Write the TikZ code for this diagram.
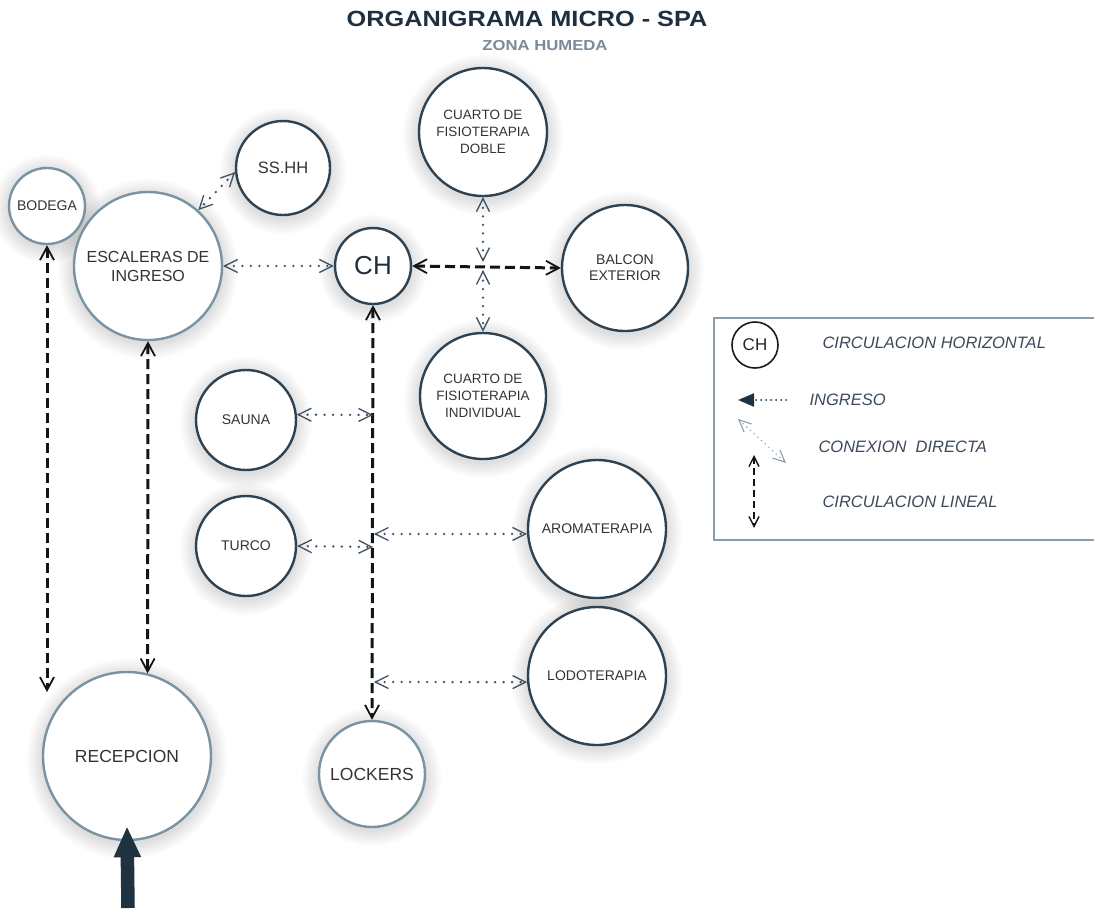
\documentclass[tikz,border=0pt]{standalone}
\usepackage{fontspec}
\setmainfont{Liberation Sans}
\newfontfamily\titlefont[FakeStretch=1.15]{Liberation Sans}
\usetikzlibrary{arrows.meta,backgrounds}
\definecolor{dk}{HTML}{2E4252}
\definecolor{lt}{HTML}{7A93A3}
\definecolor{txt}{HTML}{333333}
\definecolor{ttl}{HTML}{1E3040}
\definecolor{sub}{HTML}{7A8A99}
\definecolor{dotc}{HTML}{3E5264}
\definecolor{lgt}{HTML}{8C9DAA}
\definecolor{lgtxt}{HTML}{3D4A5C}
\definecolor{entryc}{HTML}{1E3240}
\tikzset{
  room/.style={circle, fill=white, line width=2.4pt, inner sep=0pt, align=center, text=txt},
  dkroom/.style={room, draw=dk},
  ltroom/.style={room, draw=lt},
  dotl/.style={dotc, line width=2.6pt, line cap=round, dash pattern=on 0pt off 8.5pt,
    {Straight Barb[length=13pt,width=13pt,line width=1.3pt]}-{Straight Barb[length=13pt,width=13pt,line width=1.3pt]}},
  dsh/.style={black!92, line width=3pt, dash pattern=on 10pt off 5pt,
    {Straight Barb[length=13pt,width=14pt,line width=1.8pt]}-{Straight Barb[length=13pt,width=14pt,line width=1.8pt]}},
  lgtext/.style={anchor=west, text=lgtxt, font=\fontsize{16.5}{20}\selectfont\itshape},
  f14/.style={font=\fontsize{14}{16}\selectfont},
}
\begin{document}
\begin{tikzpicture}[x=1pt,y=-1pt]
\useasboundingbox (0,0) rectangle (1094,908);

% titles
\node[text=ttl, font=\titlefont\bfseries\fontsize{22}{25}\selectfont] (title) at (527,19) {ORGANIGRAMA MICRO - SPA};
\node[text=sub, font=\titlefont\bfseries\fontsize{14.5}{16}\selectfont] (subt) at (545,46) {ZONA HUMEDA};

% rooms
\node[ltroom, minimum size=76pt, f14] (bod) at (47,206) {BODEGA};
\node[ltroom, minimum size=148pt, font=\fontsize{16}{19}\selectfont] (esc) at (148,266) {ESCALERAS DE\\INGRESO};
\node[dkroom, minimum size=94pt, font=\fontsize{16.5}{20}\selectfont] (ss) at (283,168) {SS.HH};
\node[dkroom, minimum size=76pt, text=ttl, font=\fontsize{26}{30}\selectfont] (ch) at (373,266) {CH};
\node[dkroom, minimum size=128pt, font=\fontsize{13.5}{17}\selectfont] (dob) at (483,132) {CUARTO DE\\FISIOTERAPIA\\DOBLE};
\node[dkroom, minimum size=126pt, f14] (bal) at (625,268) {BALCON\\EXTERIOR};
\node[dkroom, minimum size=126pt, font=\fontsize{13.5}{17}\selectfont] (ind) at (483,396) {CUARTO DE\\FISIOTERAPIA\\INDIVIDUAL};
\node[dkroom, minimum size=100pt, f14] (sau) at (246,420) {SAUNA};
\node[dkroom, minimum size=100pt, f14] (tur) at (246,546) {TURCO};
\node[dkroom, minimum size=138pt, f14] (aro) at (597,529) {AROMATERAPIA};
\node[dkroom, minimum size=138pt, f14] (lod) at (597,676) {LODOTERAPIA};
\node[ltroom, minimum size=168pt, font=\fontsize{17.5}{20}\selectfont] (rec) at (127,756) {RECEPCION};
\node[ltroom, minimum size=106pt, font=\fontsize{17.5}{20}\selectfont] (lck) at (372,774) {LOCKERS};

% white page and soft halos behind the rooms
\begin{scope}[on background layer]
\fill[white] (0,0) rectangle (1094,908);
\foreach \n/\r in {bod/38,esc/74,ss/47,ch/38,dob/64,bal/63,ind/63,sau/50,tur/50,aro/69,lod/69,rec/84,lck/53}{
  \foreach \k in {1,...,8}{
    \fill[black, opacity=0.014] ([yshift=-3pt]\n.center) circle[radius={(\r+2*\k)*1pt}];
  }
}
\end{scope}

% coordinates
\coordinate (m1) at (483,262);
\coordinate (m2) at (483,270);
\coordinate (j1) at (373,415);
\coordinate (j2) at (373,547);
\coordinate (j3) at (374,534);
\coordinate (j4) at (374,682);
\coordinate (bt) at (47,692);
\coordinate (ent) at (128,908);

% connectors
\draw[dotl] (ss.185) -- (esc.48);
\draw[dotl] (esc.east) -- (ch.west);
\draw[dotl] (dob.south) -- (m1);
\draw[dotl] (m2) -- (ind.north);
\draw[dsh] (ch.east) -- (bal.west);
\draw[dsh] (ch.south) -- (lck.north);
\draw[dotl] (sau.6) -- (j1);
\draw[dotl] (tur.east) -- (j2);
\draw[dotl] (j3) -- (aro.184);
\draw[dotl] (j4) -- (lod.185);
\draw[dsh] (bod.south) -- (bt);
\draw[dsh] (esc.south) -- (rec.76);
\draw[entryc, line width=13.5pt, -{Triangle[length=31pt,width=25pt]}] (ent) -- ([yshift=15pt]rec.south);

% legend
\draw[lgt, line width=1.2pt] (714,318) rectangle (1100,540);
\node[circle, draw=black!90, line width=1.6pt, minimum size=46pt, inner sep=0pt, text=black!85, font=\fontsize{17}{20}\selectfont] (lch) at (755,345) {CH};
\node[lgtext] (l1) at (819,343) {CIRCULACION HORIZONTAL};
\coordinate (ia) at (786,400);
\coordinate (ib) at (738,400);
\draw[entryc, line width=2pt, line cap=round, dash pattern=on 0pt off 5pt, -{Triangle[length=16pt,width=13pt]}] (ia) -- (ib);
\node[lgtext] (l2) at (806,400) {INGRESO};
\coordinate (ca) at (738,419);
\coordinate (cb) at (786,463);
\draw[lgt, line width=1.6pt, line cap=round, dash pattern=on 0pt off 5pt,
  {Straight Barb[length=12pt,width=11pt,line width=1.1pt]}-{Straight Barb[length=12pt,width=11pt,line width=1.1pt]}] (ca) -- (cb);
\node[lgtext] (l3) at (815,447) {CONEXION\ \ DIRECTA};
\coordinate (la) at (754,455);
\coordinate (lb) at (754,528);
\draw[black!92, line width=2.2pt, dash pattern=on 7pt off 4pt,
  {Straight Barb[length=10pt,width=10pt,line width=1.4pt]}-{Straight Barb[length=10pt,width=10pt,line width=1.4pt]}] (la) -- (lb);
\node[lgtext] (l4) at (819,502) {CIRCULACION LINEAL};
\end{tikzpicture}
\end{document}
